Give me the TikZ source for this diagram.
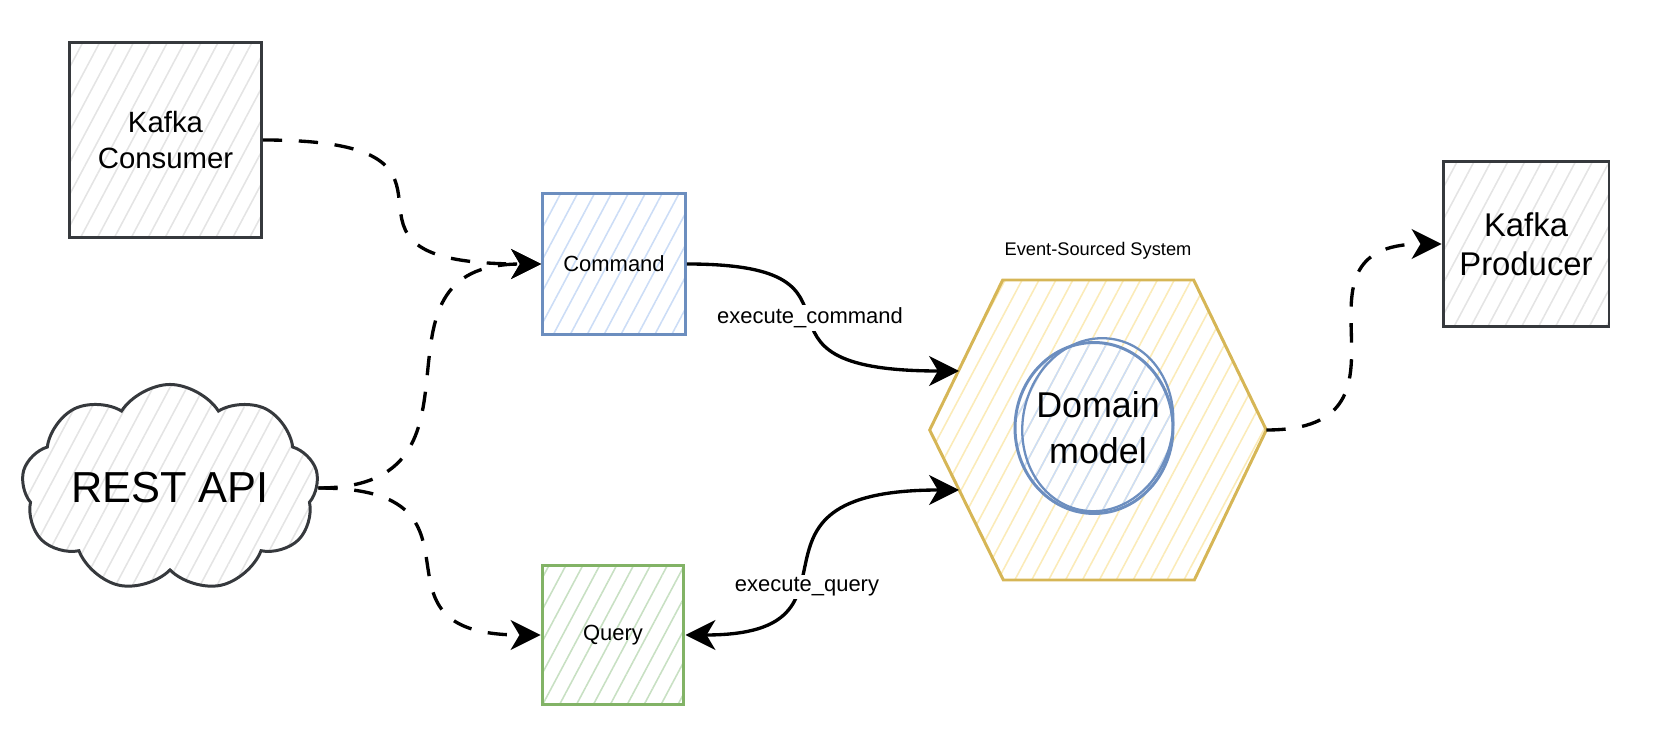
\documentclass[tikz,border=0pt]{standalone}
\usepackage{fontspec}
\setmainfont{Liberation Sans}
\usetikzlibrary{arrows.meta,shapes.symbols,shapes.geometric,patterns.meta}
\definecolor{darkstroke}{HTML}{36393D}
\definecolor{grayhatch}{HTML}{E4E4E4}
\definecolor{cmdblue}{HTML}{6C8EBF}
\definecolor{cmdhatch}{HTML}{CCDDF6}
\definecolor{qrygreen}{HTML}{82B366}
\definecolor{qryhatch}{HTML}{C8E0C3}
\definecolor{sysyellow}{HTML}{D6B656}
\definecolor{syshatch}{HTML}{FBEBB8}

\begin{document}
\begin{tikzpicture}[x=0.02cm, y=-0.02cm,
  >={Stealth[length=17pt, width=17pt, inset=5pt]},
  hatch/.style={pattern={Lines[angle=62, distance=8.5pt, line width=0.9pt]}, pattern color=#1},
  box/.style={draw, line width=1.7pt, align=center, inner sep=0pt},
  darkbox/.style={box, draw=darkstroke, hatch=grayhatch},
  cmdbox/.style={box, draw=cmdblue, hatch=cmdhatch, font=\fontsize{12.5}{15}\selectfont},
  qrybox/.style={box, draw=qrygreen, hatch=qryhatch, font=\fontsize{12.5}{15}\selectfont},
  edgelabel/.style={fill=white, inner sep=1.5pt, font=\fontsize{12.5}{15}\selectfont},
  flow/.style={line width=1.9pt, black},
  dashflow/.style={flow, dash pattern=on 11pt off 9.5pt}]
\useasboundingbox (0,0) rectangle (1657,739);

% Inputs
\node[darkbox, minimum width=3.86cm, minimum height=3.92cm, font=\fontsize{16.7}{21}\selectfont] (consumer) at (165.5,140) {Kafka\\Consumer};
\node[darkbox, cloud, cloud puffs=9, cloud puff arc=115, aspect=1.7, minimum width=5.94cm, minimum height=3.62cm, font=\fontsize{24.7}{28}\selectfont] (rest) at (170,488) {REST API};

% Command and query side
\node[cmdbox, minimum width=2.86cm, minimum height=2.84cm] (cmd) at (614,264) {Command};
\node[qrybox, minimum width=2.84cm, minimum height=2.80cm] (qry) at (613,635) {Query};

% Event-sourced core
\node[minimum width=6.72cm, minimum height=6cm, inner sep=0pt] (sys) at (1098,430) {};
\draw[line width=1.7pt, draw=sysyellow, hatch=syshatch] (sys.west) -- ++(73,-150) -- ++(191,0) -- (sys.east) -- ++(-72,150) -- ++(-191,0) -- cycle;
\node[font=\fontsize{10.4}{12}\selectfont] (syslabel) at (1098,251) {Event-Sourced System};
\coordinate (domc) at (1094,428);
\draw[line width=1.7pt, draw=cmdblue, hatch=cmdhatch] (domc) ellipse [x radius=1.58cm, y radius=1.71cm];
\draw[line width=1.3pt, cmdblue, rotate around={-12:(domc)}] ([shift={(3,-4)}]domc) ellipse [x radius=1.5cm, y radius=1.74cm];
\node[align=center, font=\fontsize{20.4}{26}\selectfont] (dom) at (1098,428) {Domain\\model};
\coordinate (sysin) at (959,371);
\coordinate (sysout) at (959,490);

% Output
\node[darkbox, minimum width=3.32cm, minimum height=3.32cm, font=\fontsize{18.7}{22}\selectfont] (producer) at (1526,244) {Kafka\\Producer};

% Connecting arrows
\draw[dashflow, ->] (consumer.east) .. controls +(255,0) and +(-255,0) .. (cmd.west);
\draw[dashflow, ->] (rest.east) .. controls +(190,0) and +(-190,0) .. (cmd.west);
\draw[dashflow, ->] (rest.east) .. controls +(190,0) and +(-190,0) .. (qry.west);
\draw[flow, ->] (cmd.east) .. controls +(210,0) and +(-242,0) .. (sysin);
\draw[flow, <->] (qry.east) .. controls +(200,0) and +(-244,0) .. (sysout);
\draw[dashflow, ->] (sys.east) .. controls +(170,0) and +(-170,0) .. (producer.west);

% Edge labels
\node[edgelabel] (cmdlabel) at (810,318) {execute\_command};
\node[edgelabel] (qrylabel) at (807,587) {execute\_query};
\end{tikzpicture}
\end{document}
